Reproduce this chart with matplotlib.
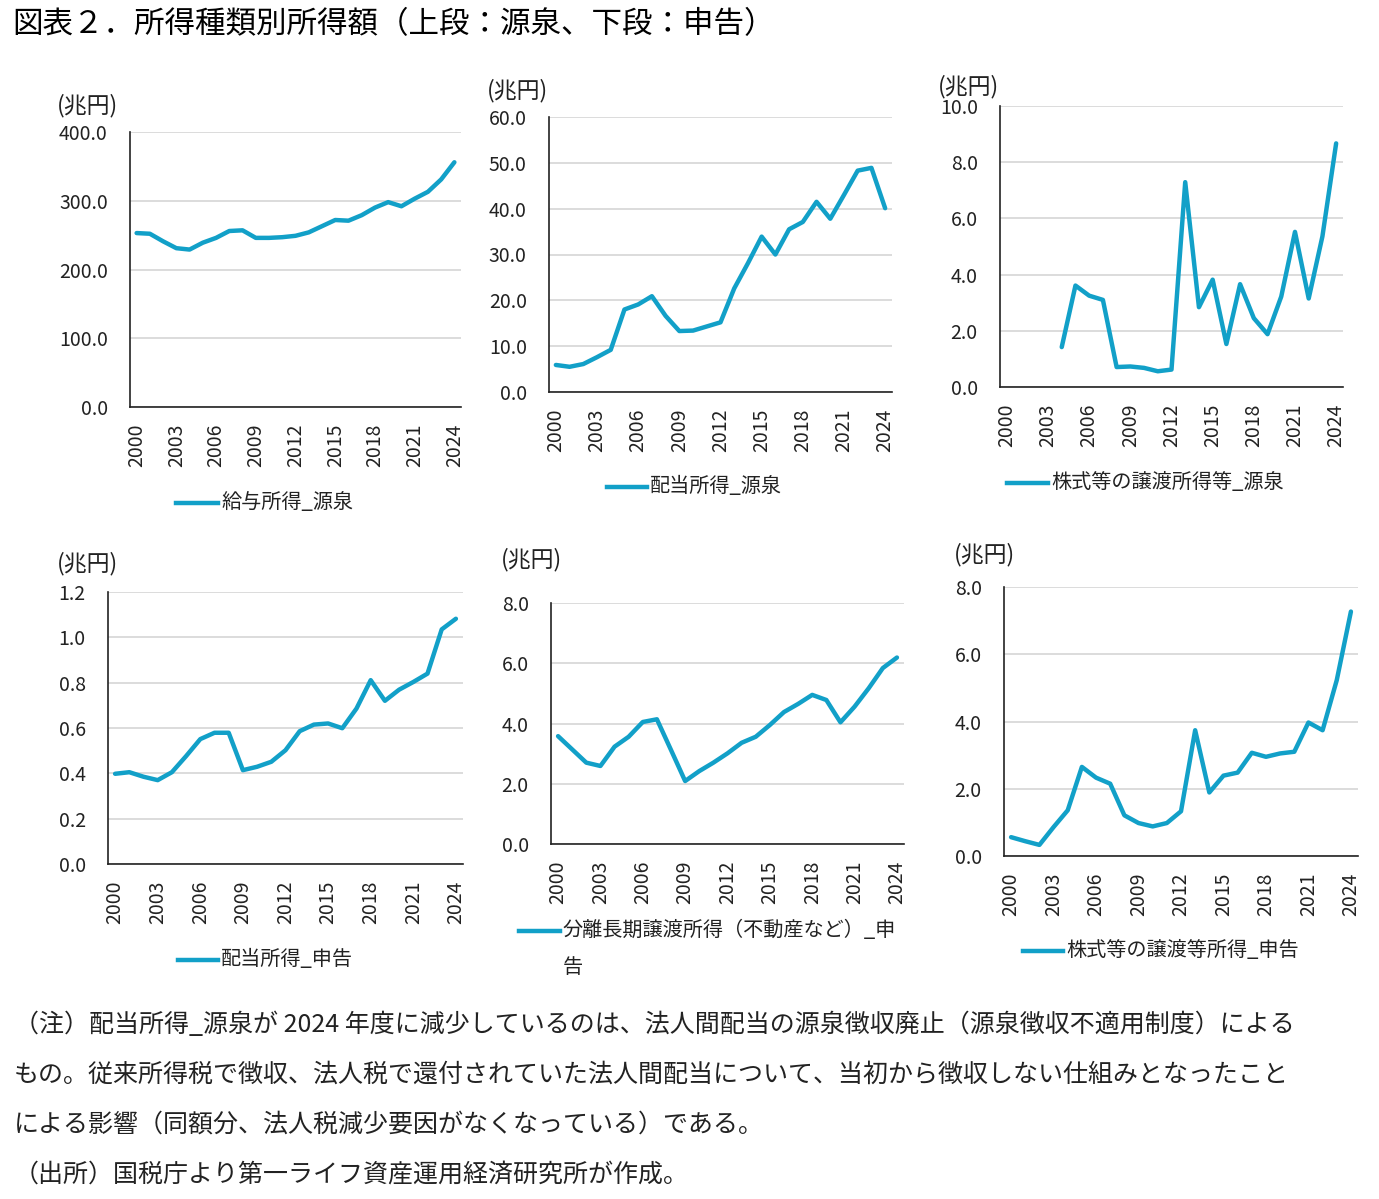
import matplotlib
matplotlib.use("Agg")
import matplotlib.pyplot as plt
import numpy as np
from matplotlib.lines import Line2D
from matplotlib.ticker import FormatStrFormatter, MultipleLocator

plt.rcParams["font.family"] = ["Noto Sans CJK JP", "DejaVu Sans"]

years = list(range(2000, 2025))
year_ticks = list(range(2000, 2025, 3))

# 兆円
wage_withholding = [253, 252, 241, 231, 229, 239, 246, 256, 257, 246, 246, 247, 249,
                    254, 263, 272, 271, 279, 290, 298, 292, 303, 313, 331, 356]
dividend_withholding = [5.9, 5.5, 6.1, 7.6, 9.2, 18.0, 19.1, 20.9, 16.6, 13.3, 13.4, 14.3, 15.2,
                        22.6, 28.1, 33.9, 30.0, 35.5, 37.1, 41.5, 37.8, 43.0, 48.3, 48.9, 40.1]
stock_withholding = [np.nan, np.nan, np.nan, np.nan, 1.42, 3.61, 3.25, 3.10, 0.71, 0.73, 0.68, 0.56, 0.62,
                     7.29, 2.84, 3.82, 1.53, 3.66, 2.45, 1.88, 3.22, 5.52, 3.15, 5.36, 8.67]
dividend_return = [0.398, 0.405, 0.385, 0.370, 0.405, 0.476, 0.551, 0.579, 0.579, 0.414, 0.429, 0.451, 0.502,
                   0.586, 0.615, 0.620, 0.599, 0.686, 0.811, 0.720, 0.769, 0.803, 0.840, 1.035, 1.082]
land_return = [3.58, 3.14, 2.70, 2.59, 3.23, 3.56, 4.05, 4.14, 3.12, 2.09, 2.42, 2.70, 3.01,
               3.36, 3.56, 3.95, 4.38, 4.65, 4.95, 4.78, 4.04, 4.56, 5.17, 5.84, 6.19]
stock_return = [0.56, 0.44, 0.33, 0.86, 1.36, 2.65, 2.33, 2.15, 1.21, 0.98, 0.88, 0.98, 1.33,
                3.74, 1.89, 2.39, 2.48, 3.07, 2.95, 3.05, 3.10, 3.97, 3.74, 5.23, 7.27]

series = [wage_withholding, dividend_withholding, stock_withholding,
          dividend_return, land_return, stock_return]
labels = ["給与所得_源泉", "配当所得_源泉", "株式等の譲渡所得等_源泉",
          "配当所得_申告", "分離長期譲渡所得（不動産など）_申\n告", "株式等の譲渡等所得_申告"]
y_max = [400, 60, 10, 1.2, 8, 8]
y_step = [100, 10, 2, 0.2, 2, 2]

title = "図表２．所得種類別所得額（上段：源泉、下段：申告）"
notes = [
    "（注）配当所得_源泉が 2024 年度に減少しているのは、法人間配当の源泉徴収廃止（源泉徴収不適用制度）による",
    "もの。従来所得税で徴収、法人税で還付されていた法人間配当について、当初から徴収しない仕組みとなったこと",
    "による影響（同額分、法人税減少要因がなくなっている）である。",
    "（出所）国税庁より第一ライフ資産運用経済研究所が作成。",
]

W, H = 1379, 1199
LINE = "#12a0c8"

# layout in pixels: axes (left, top, right, bottom), unit label (x, y), legend line (x0, x1, y)
axes_px = [(130, 132, 461, 407), (549, 117, 892, 392), (1000, 106, 1343, 387),
           (108, 592, 463, 864), (551, 603, 904, 844), (1004, 587, 1358, 856)]
unit_px = [(57, 106), (487, 91), (938, 87), (57, 564), (501, 560), (954, 555)]
legend_px = [(176, 218, 503), (607, 647, 487), (1007, 1048, 483),
             (178, 218, 960), (519, 560, 931), (1023, 1063, 951)]


def fx(x):
    return x / W


def fy(y):
    return 1 - y / H


fig = plt.figure(figsize=(W / 100, H / 100), dpi=100)

fig.text(fx(12), fy(25), title, fontsize=22, va="center", ha="left")

for i, vals in enumerate(series):
    l, t, r, b = axes_px[i]
    ax = fig.add_axes([fx(l), fy(b), fx(r) - fx(l), fy(t) - fy(b)])
    ax.plot(years, vals, color=LINE, lw=3.2, solid_capstyle="round", solid_joinstyle="round")
    ax.set_xlim(1999.5, 2024.5)
    ax.set_ylim(0, y_max[i])
    ax.yaxis.set_major_locator(MultipleLocator(y_step[i]))
    ax.yaxis.set_major_formatter(FormatStrFormatter("%.1f"))
    ax.set_xticks(year_ticks)
    ax.set_xticklabels([str(y) for y in year_ticks], rotation=90)
    ax.tick_params(axis="y", length=0, pad=16, labelsize=14, colors="#222222")
    ax.tick_params(axis="x", length=0, pad=12, labelsize=14, colors="#222222")
    ax.grid(axis="y", color="#d9d9d9", lw=1.3)
    ax.set_axisbelow(True)
    for side in ("top", "right"):
        ax.spines[side].set_visible(False)
    for side in ("left", "bottom"):
        ax.spines[side].set_color("#222222")
        ax.spines[side].set_linewidth(1.2)
        ax.spines[side].set_zorder(3)

    ux, uy = unit_px[i]
    fig.text(fx(ux), fy(uy), "(兆円)", fontsize=16.5, va="center", ha="left", color="#222222")

    x0, x1, ly = legend_px[i]
    fig.add_artist(Line2D([fx(x0), fx(x1)], [fy(ly), fy(ly)], color=LINE, lw=3.2,
                          transform=fig.transFigure))
    fig.text(fx(x1 + 3), fy(ly - 11), labels[i], fontsize=14.5, va="top", ha="left",
             color="#222222", linespacing=2.0)

for k, line in enumerate(notes):
    fig.text(fx(14), fy(1025 + 50 * k), line, fontsize=18, va="center", ha="left", color="#222222")

fig.savefig("out.png", dpi=100)
